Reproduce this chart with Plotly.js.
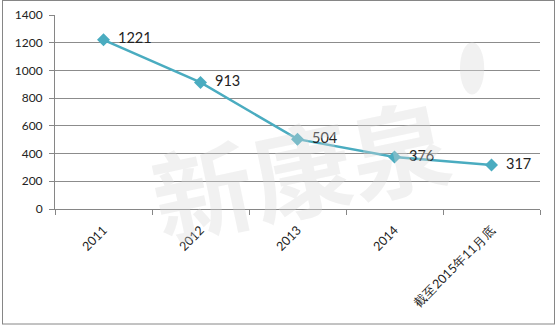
<!DOCTYPE html>
<html><head><meta charset="utf-8">
<script src="https://cdn.plot.ly/plotly-3.0.1.min.js"></script>
<style>html,body{margin:0;padding:0;background:#fff;}#c{width:557px;height:326px;}</style>
</head><body><div id="c"></div>
<script>
const categories = ['2011', '2012', '2013', '2014', '截至2015年11月底'];
const values = [1221, 913, 504, 376, 317];
const yTicks = [0, 200, 400, 600, 800, 1000, 1200, 1400];

const trace = {
  x: categories, y: values, type: 'scatter', mode: 'lines+markers+text',
  text: values.map(v => '\u2002' + v), textposition: 'middle right',
  textfont: {family: 'Lato, "Liberation Sans", sans-serif', size: 14.5, color: '#222'},
  line: {color: '#4AACC0', width: 2.5},
  marker: {symbol: 'diamond', size: 10, color: '#4AACC0'},
  cliponaxis: false, hoverinfo: 'none'
};

const layout = {
  width: 557, height: 326,
  margin: {l: 55, r: 17, t: 15, b: 117},
  paper_bgcolor: '#fff', plot_bgcolor: '#fff',
  showlegend: false,
  font: {family: 'Lato, "Liberation Sans", sans-serif', color: '#222'},
  xaxis: {
    type: 'category', tickangle: -45, ticks: 'outside', tickson: 'boundaries',
    ticklen: 5, tickcolor: '#868686', showline: true, linecolor: '#868686', linewidth: 1,
    showgrid: false, tickfont: {size: 12.5, color: '#222'}, range: [-0.5, 4.5],
    ticklabelstandoff: 8, fixedrange: true
  },
  yaxis: {
    range: [0, 1400], tickvals: yTicks, ticktext: yTicks.map(String),
    ticks: 'outside', ticklen: 5, tickcolor: '#868686', showline: true, linecolor: '#868686',
    showgrid: true, gridcolor: '#8c8c8c', gridwidth: 1, zeroline: false,
    tickfont: {size: 12, color: '#222'}, ticklabelstandoff: 4, fixedrange: true
  },
  shapes: [{
    type: 'circle', xref: 'paper', yref: 'paper', x0: 0.835, x1: 0.885, y0: 0.59, y1: 0.86,
    fillcolor: 'rgba(220,220,220,0.4)', line: {width: 0}, layer: 'above'
  }],
  annotations: [{
    xref: 'paper', yref: 'paper', x: 0.505, y: 0.22, xanchor: 'center', yanchor: 'middle',
    text: '<b>新康泉</b>', showarrow: false,
    textangle: -12, font: {family: '"Noto Sans CJK SC"', size: 100, color: 'rgba(215,215,215,0.35)'}
  }]
};
Plotly.newPlot('c', [trace], layout, {displayModeBar: false, staticPlot: true}).then(() => {
  const svg = document.querySelector('#c .main-svg');
  const r = document.createElementNS('http://www.w3.org/2000/svg', 'rect');
  r.setAttribute('x', 2.5); r.setAttribute('y', 0.5); r.setAttribute('width', 552); r.setAttribute('height', 323.5);
  r.setAttribute('fill', 'none'); r.setAttribute('stroke', '#868686'); r.setAttribute('stroke-width', 1);
  svg.appendChild(r);
});
</script></body></html>
